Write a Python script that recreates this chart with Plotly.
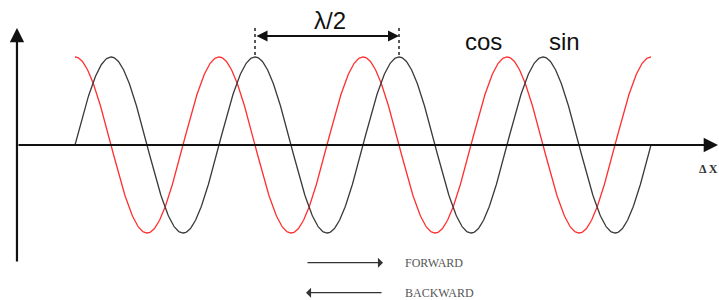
import numpy as np
import plotly.graph_objects as go

# ---- data (x in wavelengths, y in amplitude units) ----
n_waves = 4                     # number of wavelengths drawn
amplitude = 1.0
x_wave = np.linspace(0, n_waves, 801)
sin_vals = amplitude * np.sin(2 * np.pi * x_wave)
cos_vals = amplitude * np.cos(2 * np.pi * x_wave)

curve_labels = ["cos", "sin"]
curve_label_x = [2.84, 3.40]
half_lambda_text = "λ/2"
half_lambda_from = 1.25
half_lambda_to = 2.25
axis_label = "Δ X"
direction_labels = ["FORWARD", "BACKWARD"]

X_RANGE = [-75 / 144, 644 / 144]
Y_RANGE = [-155 / 88, 145 / 88]

fig = go.Figure()

fig.add_trace(go.Scatter(x=x_wave, y=cos_vals, mode="lines",
                         line=dict(color="#ff3030", width=1.3), hoverinfo="skip"))
fig.add_trace(go.Scatter(x=x_wave, y=sin_vals, mode="lines",
                         line=dict(color="#3a3a3a", width=1.3), hoverinfo="skip"))

# dotted guide lines at the two sin peaks
for xv in [half_lambda_from, half_lambda_to]:
    fig.add_trace(go.Scatter(x=[xv, xv], y=[1.33, 1.02], mode="lines",
                             line=dict(color="#222", width=1.5, dash="dot"),
                             hoverinfo="skip"))

ann = []
# x axis arrow
ann.append(dict(x=4.465, y=0, ax=-0.403, ay=0, xref="x", yref="y", axref="x", ayref="y",
                text="", showarrow=True, arrowhead=2, arrowsize=1.3, arrowwidth=2.2,
                arrowcolor="#111"))
# y axis arrow
ann.append(dict(x=-0.403, y=1.33, ax=-0.403, ay=-1.341, xref="x", yref="y", axref="x", ayref="y",
                text="", showarrow=True, arrowhead=2, arrowsize=1.3, arrowwidth=2.2,
                arrowcolor="#111"))
# lambda/2 double arrow
ann.append(dict(x=half_lambda_to, y=(145 - 36) / 88, ax=half_lambda_from, ay=(145 - 36) / 88,
                xref="x", yref="y", axref="x", ayref="y", text="", showarrow=True,
                arrowhead=2, startarrowhead=2, arrowside="end+start",
                arrowsize=1.1, startarrowsize=1.1, arrowwidth=2, arrowcolor="#111"))
ann.append(dict(x=1.77, y=1.42, xref="x", yref="y", text=half_lambda_text, showarrow=False,
                font=dict(family="Liberation Sans, Arial", size=24, color="#111")))
# curve labels
for lab, lx in zip(curve_labels, curve_label_x):
    ann.append(dict(x=lx, y=1.18, xref="x", yref="y", text=lab, showarrow=False,
                    font=dict(family="Liberation Sans, Arial", size=24, color="#111")))
# Delta X label
ann.append(dict(x=4.32, y=-0.273, xref="x", yref="y", text="<b>" + axis_label + "</b>",
                showarrow=False, xanchor="left",
                font=dict(family="Liberation Serif, Times New Roman", size=12, color="#333")))
# direction arrows
dir_y = [(145 - 262.7) / 88, (145 - 292.7) / 88]
for i, (lab, yv) in enumerate(zip(direction_labels, dir_y)):
    tip, tail = (2.139, 1.604) if i == 0 else (1.604, 2.139)
    ann.append(dict(x=tip, y=yv, ax=tail, ay=yv, xref="x", yref="y", axref="x", ayref="y",
                    text="", showarrow=True, arrowhead=1, arrowsize=1.3, arrowwidth=1.3,
                    arrowcolor="#333"))
    ann.append(dict(x=2.278, y=yv, xref="x", yref="y", text=lab, showarrow=False,
                    xanchor="left",
                    font=dict(family="Liberation Serif, Times New Roman", size=12, color="#555")))

fig.update_layout(
    width=719, height=300,
    margin=dict(l=0, r=0, t=0, b=0),
    paper_bgcolor="white", plot_bgcolor="white",
    showlegend=False,
    xaxis=dict(range=X_RANGE, visible=False, fixedrange=True),
    yaxis=dict(range=Y_RANGE, visible=False, fixedrange=True),
    annotations=ann,
)

fig.write_html("out.html", config={"displayModeBar": False},
               post_script="document.body.style.margin='0px';"
                           "document.body.style.overflow='hidden';")
